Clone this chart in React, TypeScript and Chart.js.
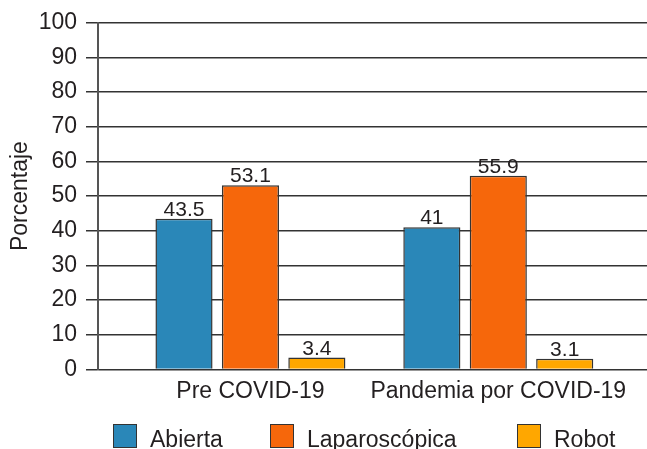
import React, { useEffect, useRef } from "react";
import { Chart, registerables } from "chart.js";

Chart.register(...registerables);

// ---- data ----
const categories = ["Pre COVID-19", "Pandemia por COVID-19"];
const seriesNames = ["Abierta", "Laparoscópica", "Robot"];
const abierta = [43.5, 41];
const laparoscopica = [53.1, 55.9];
const robot = [3.4, 3.1];
const seriesColors = ["#2A87B8", "#F6670B", "#FFA700"];
const yAxisTitle = "Porcentaje";

const FONT = "'Liberation Sans', Arial, Helvetica, sans-serif";
const TEXT = "#231F20";
const legendSlots = [157, 247, undefined];

const valueLabels = {
  id: "valueLabels",
  afterDatasetsDraw(chart: any) {
    const ctx = chart.ctx;
    ctx.save();
    ctx.font = `21px ${FONT}`;
    ctx.fillStyle = TEXT;
    ctx.textAlign = "center";
    ctx.textBaseline = "alphabetic";
    chart.data.datasets.forEach((ds: any, di: number) => {
      const meta = chart.getDatasetMeta(di);
      meta.data.forEach((el: any, i: number) => {
        const v = ds.data[i].y;
        ctx.fillText(String(v), el.x, el.y - 3);
      });
    });
    ctx.restore();
  },
};

export default function App() {
  const ref = useRef<HTMLCanvasElement | null>(null);

  useEffect(() => {
    if (!ref.current) return;
    const seriesValues = [abierta, laparoscopica, robot];
    const chart = new Chart(ref.current, {
      type: "bar",
      data: {
        datasets: seriesNames.map((name, s) => ({
          label: name,
          data: seriesValues[s].map((v, i) => ({ x: i, y: v })),
          backgroundColor: seriesColors[s],
          borderColor: "#333333",
          borderWidth: 1.5,
          categoryPercentage: 0.804,
          barPercentage: 0.86,
        })),
      },
      options: {
        animation: false,
        responsive: false,
        maintainAspectRatio: false,
        layout: { padding: { top: 21, left: 3, right: 0, bottom: 44 } },
        plugins: {
          legend: { display: false },
          tooltip: { enabled: false },
        },
        scales: {
          x: {
            type: "linear",
            offset: false,
            bounds: "data",
            min: -0.615,
            max: 1.6,
            afterBuildTicks: (scale: any) => {
              scale.ticks = categories.map((_, i) => ({ value: i }));
            },
            afterFit: (scale: any) => {
              scale.paddingLeft = 0;
              scale.paddingRight = 0;
            },
            ticks: {
              callback: (v: any) => categories[v] ?? "",
              font: { family: FONT, size: 23 },
              color: TEXT,
              padding: 0,
              autoSkip: false,
              maxRotation: 0,
              minRotation: 0,
            },
            grid: { display: false, offset: false },
            border: { display: false },
          },
          y: {
            min: 0,
            max: 100,
            afterFit: (scale: any) => {
              scale.width = 95;
            },
            ticks: {
              stepSize: 10,
              font: { family: FONT, size: 23 },
              color: TEXT,
              padding: 9,
            },
            grid: { color: "#333333", lineWidth: 1.5, tickLength: 12 },
            border: { display: true, color: "#555555", width: 2 },
            title: {
              display: true,
              text: yAxisTitle,
              font: { family: FONT, size: 23 },
              color: TEXT,
              padding: { top: 4, bottom: 4 },
            },
          },
        },
      } as any,
      plugins: [valueLabels],
    });
    return () => chart.destroy();
  }, []);

  return (
    <div style={{ position: "absolute", left: 0, top: 0, width: 647, height: 449 }}>
      <canvas ref={ref} width={647} height={449} style={{ display: "block" }} />
      <div
        style={{
          position: "absolute",
          left: 113,
          top: 424,
          display: "flex",
          fontFamily: FONT,
          fontSize: 23,
          color: TEXT,
          whiteSpace: "nowrap",
        }}
      >
        {seriesNames.map((n, i) => (
          <div
            key={n}
            style={{ display: "flex", alignItems: "flex-start", width: legendSlots[i] }}
          >
            <span
              style={{
                display: "block",
                width: 24,
                height: 24,
                boxSizing: "border-box",
                border: "1.5px solid #333",
                background: seriesColors[i],
              }}
            />
            <span style={{ marginLeft: 13, lineHeight: "24px", marginTop: 3 }}>{n}</span>
          </div>
        ))}
      </div>
    </div>
  );
}
